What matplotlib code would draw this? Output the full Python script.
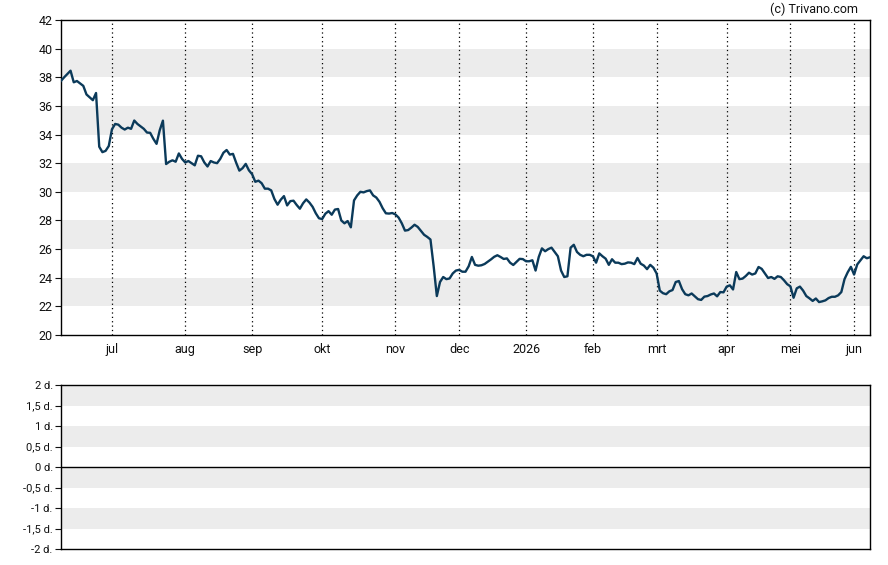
import matplotlib
matplotlib.use("Agg")
import matplotlib.pyplot as plt
import numpy as np
import pandas as pd

plt.rcParams['font.family'] = ['Roboto', 'DejaVu Sans']

# ---- data -------------------------------------------------------------
start_date = "2025-06-09"
end_date = "2026-06-08"
holidays = ["2025-12-25", "2025-12-26", "2026-01-01", "2026-04-03",
            "2026-04-06", "2026-05-01"]

prices = [
    37.75, 38.0, 38.23, 38.46, 37.65, 37.74, 37.57, 37.4, 36.8, 36.6,
    36.4, 36.9, 33.15, 32.77, 32.86, 33.2, 34.37, 34.74, 34.69, 34.48,
    34.35, 34.48, 34.4, 34.98, 34.74, 34.57, 34.4, 34.14, 34.12, 33.7,
    33.35, 34.3, 34.97, 31.94, 32.1, 32.2, 32.1, 32.68, 32.3, 32.05,
    32.15, 32.0, 31.85, 32.52, 32.48, 32.05, 31.77, 32.15, 32.05, 32.0,
    32.3, 32.73, 32.92, 32.6, 32.65, 32.03, 31.48, 31.65, 31.95, 31.5,
    31.23, 30.7, 30.78, 30.6, 30.22, 30.22, 30.1, 29.5, 29.1, 29.45,
    29.7, 29.05, 29.35, 29.38, 29.08, 28.82, 29.2, 29.47, 29.25, 28.95,
    28.5, 28.15, 28.1, 28.47, 28.65, 28.4, 28.76, 28.8, 28.0, 27.8,
    27.96, 27.52, 29.4, 29.75, 30.0, 29.96, 30.05, 30.1, 29.75, 29.6,
    29.3, 28.85, 28.5, 28.48, 28.52, 28.42, 28.2, 27.8, 27.29, 27.33,
    27.5, 27.7, 27.55, 27.28, 27.0, 26.85, 26.67, 24.8, 22.72, 23.7,
    24.05, 23.9, 23.95, 24.3, 24.5, 24.55, 24.42, 24.42, 24.8, 25.45,
    24.9, 24.84, 24.87, 24.96, 25.12, 25.28, 25.46, 25.57, 25.45, 25.31,
    25.35, 25.05, 24.89, 25.1, 25.32, 25.3, 25.15, 25.15, 25.22, 24.5,
    25.45, 26.05, 25.85, 26.0, 26.1, 25.8, 25.5, 24.5, 24.05, 24.1,
    26.1, 26.3, 25.8, 25.6, 25.5, 25.6, 25.6, 25.5, 25.05, 25.7,
    25.5, 25.33, 24.9, 25.29, 25.05, 25.05, 24.95, 24.98, 25.07, 25.05,
    24.95, 25.38, 24.98, 24.85, 24.6, 24.9, 24.7, 24.3, 23.1, 22.92,
    22.85, 23.05, 23.14, 23.7, 23.77, 23.2, 22.85, 22.77, 22.9, 22.7,
    22.5, 22.45, 22.68, 22.72, 22.83, 22.9, 22.7, 23.0, 22.98, 23.38,
    23.47, 23.18, 24.4, 23.9, 23.94, 24.12, 24.35, 24.22, 24.3, 24.75,
    24.62, 24.3, 23.98, 24.05, 23.92, 24.1, 24.05, 23.82, 23.55, 23.4,
    22.6, 23.26, 23.38, 23.1, 22.72, 22.56, 22.38, 22.55, 22.3, 22.35,
    22.42, 22.58, 22.67, 22.67, 22.77, 23.0, 23.9, 24.38, 24.76, 24.22,
    24.93, 25.22, 25.5, 25.36, 25.43,
]

month_labels = ["jul", "aug", "sep", "okt", "nov", "dec", "2026",
                "feb", "mrt", "apr", "mei", "jun"]

price_ticks = [20, 22, 24, 26, 28, 30, 32, 34, 36, 38, 40, 42]
lower_ticks = [-2, -1.5, -1, -0.5, 0, 0.5, 1, 1.5, 2]
lower_labels = ["-2 d.", "-1,5 d.", "-1 d.", "-0,5 d.", "0 d.",
                "0,5 d.", "1 d.", "1,5 d.", "2 d."]

# ---- trading-day axis ---------------------------------------------------
dates = pd.bdate_range(start_date, end_date)
dates = dates[~dates.isin(pd.to_datetime(holidays))]
n = min(len(dates), len(prices))
dates = dates[:n]
y = np.array(prices[:n])
x = np.arange(n)

months = dates.to_period("M")
month_starts = [i for i in range(1, n) if months[i] != months[i - 1]]

# ---- figure -------------------------------------------------------------
W, H = 888, 565
fig = plt.figure(figsize=(W / 100, H / 100), dpi=100)
fig.patch.set_facecolor("white")

ax = fig.add_axes([61 / W, 1 - 335 / H, (870 - 61) / W, (335 - 20) / H])
ax2 = fig.add_axes([61 / W, 1 - 549 / H, (870 - 61) / W, (549 - 385) / H])

band = "#ececec"
line_col = "#0b3a5a"
txt_col = "#111111"

# top panel
for lo in range(22, 42, 4):
    ax.axhspan(lo, lo + 2, color=band, lw=0, zorder=0)
for m in month_starts:
    ax.axvline(m, color="black", lw=0.9, ls=(0, (1, 2.5)), zorder=1)
ax.plot(x, y, color=line_col, lw=1.7, zorder=3, solid_joinstyle="round")
ax.set_xlim(0, n - 1)
ax.set_ylim(20, 42)
ax.set_yticks(price_ticks)
ax.set_yticklabels([str(t) for t in price_ticks])
ax.set_xticks(month_starts)
ax.set_xticklabels(month_labels[:len(month_starts)])
ax.tick_params(axis="y", length=4, width=0.8, pad=2, labelsize=9,
               colors=txt_col)
ax.tick_params(axis="x", length=0, pad=6, labelsize=9, colors=txt_col)
for s in ax.spines.values():
    s.set_linewidth(1.0)
    s.set_color("black")

# bottom panel
for lo in [1.5, 0.5, -0.5, -1.5]:
    ax2.axhspan(lo, lo + 0.5, color=band, lw=0, zorder=0)
ax2.axhline(0, color="black", lw=1.0, zorder=2)
ax2.set_xlim(0, n - 1)
ax2.set_ylim(-2, 2)
ax2.set_yticks(lower_ticks)
ax2.set_yticklabels(lower_labels)
ax2.set_xticks([])
ax2.tick_params(axis="y", length=4, width=0.8, pad=2, labelsize=8,
                colors=txt_col)
for s in ax2.spines.values():
    s.set_linewidth(1.0)
    s.set_color("black")

fig.text(858 / W, 1 - 9 / H, "(c) Trivano.com", ha="right", va="center",
         fontsize=9, color=txt_col)

fig.savefig("out.png", dpi=100, facecolor="white")
